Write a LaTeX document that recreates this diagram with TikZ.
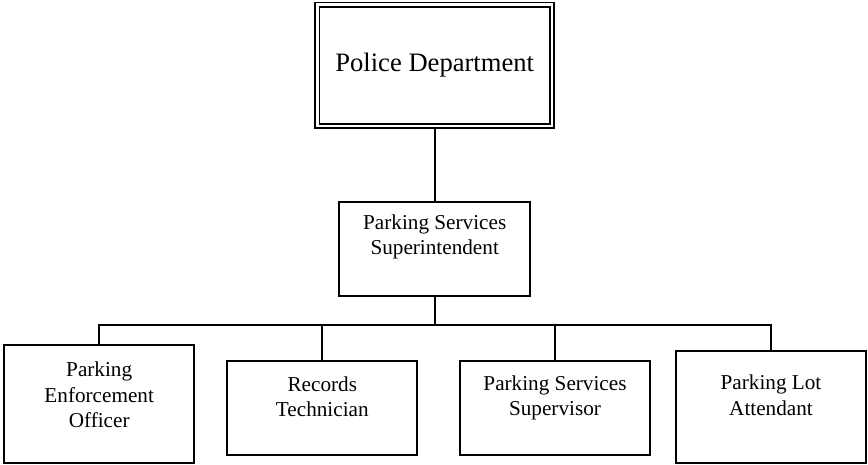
\documentclass[tikz,border=0pt]{standalone}
\usepackage{fontspec}
\setmainfont{Liberation Serif}
\usepackage{tikz}
\usetikzlibrary{positioning,calc}
\tikzset{box/.style={
    draw, line width=2pt,
    minimum width=190pt,
    inner sep=0pt
  },
  dept/.style={
    draw, double, line width=1.75pt, double distance=2.5pt,
    minimum width=234.6pt, minimum height=121.3pt,
    font=\fontsize{26.6}{32}\selectfont
  },
  lbl/.style={
    anchor=north, align=center, inner sep=0pt,
    font=\fontsize{21.2}{25.5}\selectfont
  },
  link/.style={line width=2pt, line join=miter}
}

\begin{document}
\begin{tikzpicture}[x=1pt,y=-1pt]
    \useasboundingbox (0,0) rectangle (868,465);
    % top of the chart
    \node[dept] (pd) at (434.7,65.3) {Police Department};
    \node[box, minimum width=190.7pt, minimum height=94pt] (pss) at (434.7,248.7) {};
    \node[lbl] (pss-t) at ([yshift=-13.5pt]pss.north) {Parking Services\\Superintendent};
    % staff boxes
    \node[box, minimum height=117.7pt] (peo) at (99.2,404.2) {};
    \node[box, minimum height=94pt] (rt) at (322.3,408) {};
    \node[box, minimum height=94pt] (psv) at (555,408) {};
    \node[box, minimum width=189.4pt, minimum height=112pt] (pla) at (771,407) {};
    \node[lbl] (peo-t) at ([yshift=-17.5pt]peo.north) {Parking\\Enforcement\\Officer};
    \node[lbl] (rt-t) at ([yshift=-16.5pt]rt.north) {Records\\Technician};
    \node[lbl] (psv-t) at ([yshift=-15.5pt]psv.north) {Parking Services\\Supervisor};
    \node[lbl] (pla-t) at ([yshift=-25pt]pla.north) {Parking Lot\\Attendant};
    % connectors
    \coordinate (bus) at (434.7,324.5);
    \draw[link] (pd.south) -- (pss.north);
    \foreach \n in {peo,rt,psv,pla}
        \draw[link] (pss.south) -- (bus) -| (\n.north);
\end{tikzpicture}
\end{document}
